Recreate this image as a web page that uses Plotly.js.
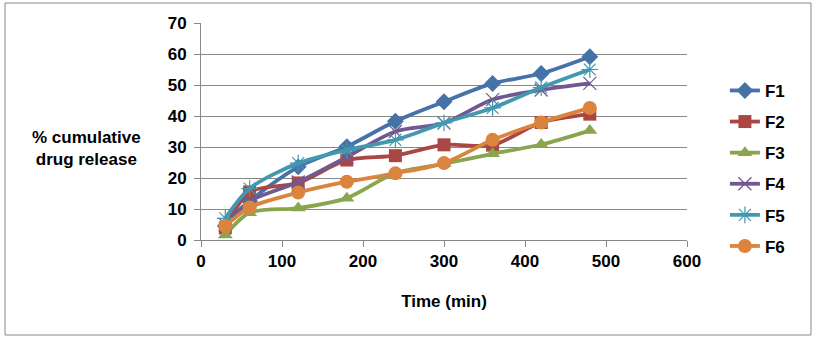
<!DOCTYPE html>
<html>
<head>
<meta charset="utf-8">
<script src="https://cdn.plot.ly/plotly-3.0.1.min.js"></script>
<style>html,body{margin:0;padding:0;background:#fff;}#chart{width:816px;height:340px;}</style>
</head>
<body>
<div id="chart"></div>
<script>
const time = [30, 60, 120, 180, 240, 300, 360, 420, 480];
const F1 = [4.5, 12.5, 23.6, 30.1, 38.3, 44.6, 50.5, 53.7, 59.1];
const F2 = [3.9, 15.5, 18.4, 25.8, 27.2, 30.7, 30.6, 37.9, 40.6];
const F3 = [1.6, 8.8, 10.3, 13.5, 21.6, 24.6, 27.8, 30.8, 35.3];
const F4 = [5.0, 12.5, 18.7, 26.8, 35.0, 37.7, 45.3, 48.4, 50.5];
const F5 = [7.0, 16.6, 24.8, 29.0, 32.3, 37.8, 42.6, 49.2, 55.0];
const F6 = [4.5, 10.5, 15.3, 18.8, 21.5, 24.8, 32.3, 37.9, 42.6];
const names = ['F1', 'F2', 'F3', 'F4', 'F5', 'F6'];
const seriesData = [F1, F2, F3, F4, F5, F6];
const colors = ['#4572A7', '#AA4643', '#89A54E', '#71588F', '#4198AF', '#DB843D'];
const symbols = ['diamond', 'square', 'triangle-up', 'x-thin-open', 'asterisk-open', 'circle'];
const sizes = [13, 13, 13, 13, 14, 14];

const FONT = 'Liberation Sans, Arial, sans-serif';
const FS = 17;

const traces = seriesData.map((ys, i) => ({
  x: time, y: ys, name: names[i], type: 'scatter', mode: 'lines+markers',
  legendgroup: names[i],
  line: {color: colors[i], width: 3.8, shape: 'spline', smoothing: 0.8},
  marker: {symbol: symbols[i], size: sizes[i], color: colors[i],
           line: {color: colors[i], width: (symbols[i].includes('open') ? 1.2 : 0)}}
}));

const layout = {
  width: 816, height: 340,
  margin: {l: 201, r: 129, t: 23, b: 100},
  paper_bgcolor: '#fff', plot_bgcolor: '#fff',
  showlegend: true,
  legend: {x: 1.078, y: 0.77, xanchor: 'left', yanchor: 'top', traceorder: 'grouped', tracegroupgap: 6,
           font: {family: FONT, size: FS, color: '#000', weight: 'bold'}, bgcolor: 'rgba(0,0,0,0)'},
  xaxis: {range: [0, 600], dtick: 100, tick0: 0, showgrid: false, zeroline: false,
          showline: true, linecolor: '#888', linewidth: 1, ticks: 'outside', ticklen: 6, tickcolor: '#888',
          tickfont: {family: FONT, size: FS, color: '#000', weight: 'bold'},
          title: {text: 'Time (min)', font: {family: FONT, size: FS, color: '#000', weight: 'bold'}, standoff: 24}},
  yaxis: {range: [0, 70], dtick: 10, tick0: 0, showgrid: true, gridcolor: '#888', gridwidth: 1, zeroline: false,
          showline: true, linecolor: '#888', linewidth: 1, ticks: 'outside', ticklen: 6, tickcolor: '#888',
          ticklabelstandoff: 4,
          tickfont: {family: FONT, size: FS, color: '#000', weight: 'bold'}},
  annotations: [{text: '% cumulative<br>drug release', xref: 'paper', yref: 'paper',
                 x: (86 - 201) / 486, y: (240 - 148) / 217, xanchor: 'center', yanchor: 'middle',
                 showarrow: false, align: 'center',
                 font: {family: FONT, size: FS, color: '#000', weight: 'bold'}}],
  shapes: [{type: 'rect', xref: 'paper', yref: 'paper',
            x0: (5 - 201) / 486, x1: (811 - 201) / 486, y0: (240 - 335) / 217, y1: (240 - 3) / 217,
            line: {color: '#888', width: 1}, fillcolor: 'rgba(0,0,0,0)', layer: 'below'}]
};

Plotly.newPlot('chart', traces, layout, {displayModeBar: false, staticPlot: true});
</script>
</body>
</html>
